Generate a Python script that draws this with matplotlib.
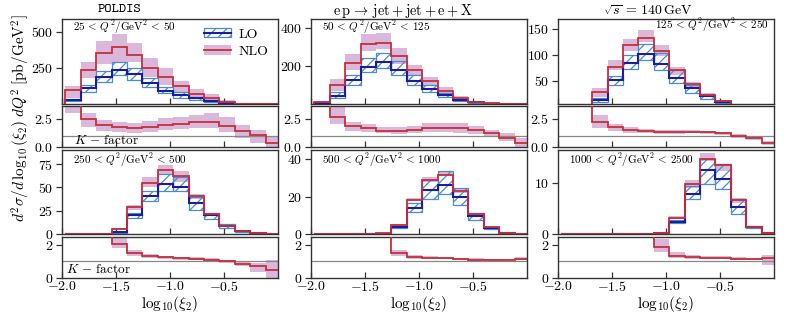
import numpy as np
import matplotlib
matplotlib.use("Agg")
import matplotlib.pyplot as plt
from matplotlib.patches import Patch
from matplotlib.lines import Line2D

plt.rcParams['font.family'] = 'serif'
plt.rcParams['font.serif'] = ['cmr10']
plt.rcParams['mathtext.fontset'] = 'cm'
plt.rcParams['axes.formatter.use_mathtext'] = True
plt.rcParams['axes.unicode_minus'] = True
plt.rcParams['hatch.linewidth'] = 0.9

# ---------------- data ----------------
bin_edges = [-1.970, -1.827, -1.684, -1.541, -1.399, -1.256, -1.113, -0.970,
             -0.827, -0.684, -0.541, -0.399, -0.256, -0.113, 0.030]

q2_labels = [r'$25\,<\,Q^2/\mathrm{GeV}^2\,<\,50$', r'$50\,<\,Q^2/\mathrm{GeV}^2\,<\,125$',
             r'$125\,<\,Q^2/\mathrm{GeV}^2\,<\,250$', r'$250\,<\,Q^2/\mathrm{GeV}^2\,<\,500$',
             r'$500\,<\,Q^2/\mathrm{GeV}^2\,<\,1000$', r'$1000\,<\,Q^2/\mathrm{GeV}^2\,<\,2500$']

# panel 1: 25 < Q2 < 50
nlo_1    = [95, 236, 356, 398, 340, 252, 190, 127, 69, 44, 16, 3, 1, 0.3]
nlo_lo_1 = [40, 183, 278, 294, 289, 190, 132, 85, 40, 21, 8, 1, 0.5, 0.1]
nlo_hi_1 = [125, 294, 437, 484, 421, 322, 248, 160, 104, 67, 30, 6, 2, 0.6]
lo_1     = [28, 109, 185, 236, 206, 148, 90, 62, 39, 23, 8, 2, 0.5, 0.1]
lo_lo_1  = [20, 86, 155, 201, 167, 120, 74, 44, 28, 16, 5, 1, 0.3, 0.05]
lo_hi_1  = [35, 132, 228, 289, 252, 178, 120, 81, 50, 30, 11, 3, 0.7, 0.15]
k_1      = [4.0, 2.43, 1.93, 1.73, 1.70, 1.79, 1.93, 2.02, 2.17, 2.22, 1.84, 1.43, 1.05, 0.32]
k_lo_1   = [2.95, 1.76, 1.40, 1.29, 1.26, 1.32, 1.49, 1.55, 1.64, 1.70, 1.32, 0.76, 0.32, 0.0]
k_hi_1   = [4.5, 2.95, 2.37, 2.22, 2.13, 2.31, 2.51, 2.60, 2.83, 2.95, 2.60, 1.93, 1.49, 0.90]

# panel 2: 50 < Q2 < 125
nlo_2    = [9, 102, 218, 320, 325, 254, 182, 120, 70, 34, 12, 3, 1, 0.3]
nlo_lo_2 = [5, 70, 182, 281, 290, 212, 155, 100, 55, 25, 8, 2, 0.5, 0.1]
nlo_hi_2 = [14, 134, 263, 373, 378, 298, 209, 145, 90, 45, 18, 5, 1.5, 0.5]
lo_2     = [3, 43, 125, 196, 223, 182, 123, 80, 48, 22, 8, 2, 0.5, 0.1]
lo_lo_2  = [2, 34, 102, 170, 191, 155, 102, 62, 36, 16, 5, 1, 0.3, 0.05]
lo_hi_2  = [4, 62, 155, 241, 271, 226, 155, 98, 60, 28, 11, 3, 0.7, 0.15]
k_2      = [6.0, 2.61, 1.84, 1.64, 1.43, 1.40, 1.49, 1.64, 1.67, 1.67, 1.49, 1.20, 0.82, 0.38]
k_lo_2   = [6.0, 2.02, 1.40, 1.29, 1.20, 1.14, 1.20, 1.29, 1.29, 1.26, 1.14, 0.90, 0.50, 0.0]
k_hi_2   = [6.0, 3.54, 2.22, 2.02, 1.78, 1.72, 1.84, 2.08, 2.08, 2.14, 1.84, 1.49, 1.20, 0.76]

# panel 3: 125 < Q2 < 250
nlo_3    = [0, 0, 28, 77, 118, 133, 107, 71, 43, 23, 10, 2, 0.5, 0.1]
nlo_lo_3 = [0, 0, 18, 71, 107, 125, 97, 61, 37, 18, 7, 1, 0.3, 0.05]
nlo_hi_3 = [0, 0, 35, 89, 130, 148, 118, 77, 48, 26, 13, 3, 0.7, 0.15]
lo_3     = [0, 0, 13, 52, 85, 101, 83, 55, 36, 20, 9, 2, 0.5, 0.1]
lo_lo_3  = [0, 0, 9, 42, 73, 90, 71, 45, 26, 15, 7, 1, 0.3, 0.05]
lo_hi_3  = [0, 0, 17, 59, 100, 120, 103, 71, 42, 23, 11, 3, 0.7, 0.15]
k_3      = [6.0, 6.0, 2.17, 1.73, 1.49, 1.40, 1.32, 1.32, 1.35, 1.29, 1.20, 0.96, 0.76, 0.38]
k_lo_3   = [6.0, 6.0, 1.64, 1.43, 1.26, 1.20, 1.18, 1.18, 1.20, 1.15, 1.06, 0.82, 0.60, 0.18]
k_hi_3   = [6.0, 6.0, 2.81, 2.02, 1.73, 1.61, 1.48, 1.48, 1.50, 1.44, 1.34, 1.10, 0.92, 0.55]

# panel 4: 250 < Q2 < 500
nlo_4    = [0, 0, 0.3, 5, 28.4, 54.6, 69, 61.7, 41, 21, 8.5, 3, 0.8, 0.2]
nlo_lo_4 = [0, 0, 0.2, 4, 26, 50, 64, 56, 37.5, 19, 7.5, 2.5, 0.6, 0.1]
nlo_hi_4 = [0, 0, 0.4, 6, 31, 61, 74, 67, 43, 23, 9.5, 3.5, 1.0, 0.3]
lo_4     = [0, 0, 0.1, 2, 20, 41, 53.5, 50.5, 33, 20, 9, 3, 0.8, 0.2]
lo_lo_4  = [0, 0, 0.05, 1.5, 17, 35, 46, 46, 26, 16, 6, 2.5, 0.6, 0.1]
lo_hi_4  = [0, 0, 0.15, 2.5, 23, 46, 64, 61, 40, 23, 11, 3.5, 1.0, 0.3]
k_4      = [6.0, 6.0, 6.0, 2.03, 1.48, 1.32, 1.24, 1.18, 1.14, 1.10, 1.00, 0.82, 0.68, 0.46]
k_lo_4   = [6.0, 6.0, 6.0, 1.78, 1.31, 1.22, 1.16, 1.10, 1.06, 1.02, 0.92, 0.72, 0.36, 0.0]
k_hi_4   = [6.0, 6.0, 6.0, 2.39, 1.68, 1.44, 1.34, 1.27, 1.23, 1.19, 1.10, 0.95, 0.87, 1.05]

# panel 5: 500 < Q2 < 1000
nlo_5    = [0, 0, 0, 0, 0.5, 4.8, 18.1, 29.1, 31.8, 22.9, 10.5, 3.6, 0.3, 0.05]
nlo_lo_5 = [0, 0, 0, 0, 0.4, 4.4, 17.5, 28, 31, 22, 10, 3.3, 0.25, 0.03]
nlo_hi_5 = [0, 0, 0, 0, 0.6, 5.3, 19.3, 30.6, 33, 24, 11.2, 4.0, 0.4, 0.07]
lo_5     = [0, 0, 0, 0, 0.1, 3.7, 14, 23.4, 26.5, 19.7, 9.6, 3.3, 0.3, 0.05]
lo_lo_5  = [0, 0, 0, 0, 0.08, 3.0, 11.7, 18.8, 21.6, 15.8, 7.5, 2.8, 0.2, 0.03]
lo_hi_5  = [0, 0, 0, 0, 0.12, 4.5, 16.6, 29, 33.6, 24.7, 11.4, 3.8, 0.4, 0.07]
k_5      = [6.0, 6.0, 6.0, 6.0, 6.0, 1.48, 1.27, 1.22, 1.18, 1.14, 1.10, 1.06, 1.08, 1.16]
k_lo_5   = [6.0, 6.0, 6.0, 6.0, 6.0, 1.30, 1.16, 1.14, 1.11, 1.08, 1.04, 1.00, 1.01, 1.08]
k_hi_5   = [6.0, 6.0, 6.0, 6.0, 6.0, 1.66, 1.38, 1.30, 1.26, 1.21, 1.17, 1.12, 1.15, 1.24]

# panel 6: 1000 < Q2 < 2500
nlo_6    = [0, 0, 0, 0, 0, 0.05, 0.2, 3.2, 9.8, 14.8, 13.5, 6.6, 1.4, 0.1]
nlo_lo_6 = [0, 0, 0, 0, 0, 0.03, 0.15, 2.9, 9.1, 14.4, 12.3, 6.0, 1.2, 0.05]
nlo_hi_6 = [0, 0, 0, 0, 0, 0.07, 0.25, 3.6, 10.6, 15.9, 13.8, 7.0, 1.6, 0.15]
lo_6     = [0, 0, 0, 0, 0, 0.02, 0.1, 2.4, 7.8, 12.6, 10.8, 5.3, 1.3, 0.1]
lo_lo_6  = [0, 0, 0, 0, 0, 0.01, 0.08, 2.2, 6.9, 9.8, 8.8, 3.9, 1.1, 0.05]
lo_hi_6  = [0, 0, 0, 0, 0, 0.03, 0.12, 2.8, 9.4, 14.8, 13.7, 6.8, 1.5, 0.15]
k_6      = [6.0, 6.0, 6.0, 6.0, 6.0, 6.0, 1.84, 1.32, 1.26, 1.22, 1.20, 1.16, 1.14, 1.20]
k_lo_6   = [6.0, 6.0, 6.0, 6.0, 6.0, 6.0, 1.58, 1.18, 1.16, 1.14, 1.12, 1.09, 1.07, 0.75]
k_hi_6   = [6.0, 6.0, 6.0, 6.0, 6.0, 6.0, 2.33, 1.58, 1.38, 1.31, 1.29, 1.24, 1.22, 1.35]

panels = [
    (nlo_1, nlo_lo_1, nlo_hi_1, lo_1, lo_lo_1, lo_hi_1, k_1, k_lo_1, k_hi_1),
    (nlo_2, nlo_lo_2, nlo_hi_2, lo_2, lo_lo_2, lo_hi_2, k_2, k_lo_2, k_hi_2),
    (nlo_3, nlo_lo_3, nlo_hi_3, lo_3, lo_lo_3, lo_hi_3, k_3, k_lo_3, k_hi_3),
    (nlo_4, nlo_lo_4, nlo_hi_4, lo_4, lo_lo_4, lo_hi_4, k_4, k_lo_4, k_hi_4),
    (nlo_5, nlo_lo_5, nlo_hi_5, lo_5, lo_lo_5, lo_hi_5, k_5, k_lo_5, k_hi_5),
    (nlo_6, nlo_lo_6, nlo_hi_6, lo_6, lo_lo_6, lo_hi_6, k_6, k_lo_6, k_hi_6),
]

main_ylims = [(0, 590), (0, 450), (5, 169), (0, 90), (0, 45), (0, 16.5)]
main_yticks = [[250, 500], [200, 400], [50, 100, 150], [0, 25, 50, 75], [0, 20, 40], [0, 10]]
ratio_ylims = [(0, 3.6), (0, 2.5)]
ratio_yticks = [[0, 2.5], [0, 2]]
x_ticks = [-2.0, -1.5, -1.0, -0.5]

# ---------------- style ----------------
C_NLO = '#c4303b'
C_NLO_BAND = 'purple'
C_LO = '#1c1c9e'
C_LO_BAND = '#4a8cd0'
SPINE = '#333333'

W, H = 789, 316
fig = plt.figure(figsize=(W / 100, H / 100), dpi=100)

col_left = [62, 311, 558]
col_w = 215.8
rows_px = [((19, 104), (106, 147)), ((150, 234), (236.5, 277.7))]

edges = np.array(bin_edges)
centers = 0.5 * (edges[:-1] + edges[1:])
widths = np.diff(edges)


def fax(left, top, bottom):
    return fig.add_axes([left / W, 1 - bottom / H, col_w / W, (bottom - top) / H])


def style(ax):
    for s in ax.spines.values():
        s.set_color(SPINE)
        s.set_linewidth(1.0)
    ax.tick_params(axis='x', direction='in', length=4, width=0.9, color=SPINE, labelsize=10, pad=1.5)
    ax.tick_params(axis='y', direction='out', length=4, width=0.9, color=SPINE, labelsize=10, pad=2.5)
    ax.set_xlim(-2.0, 0.0)
    ax.set_xticks(x_ticks)


for i, data in enumerate(panels):
    nlo, nlo_lo, nlo_hi, lo, lo_lo, lo_hi, k, k_lo, k_hi = [np.array(d, float) for d in data]
    r, c = divmod(i, 3)
    (mt, mb), (rt, rb) = rows_px[r]
    ax = fax(col_left[c], mt, mb)
    axr = fax(col_left[c], rt, rb)
    style(ax)
    style(axr)

    # main panel
    ax.stairs(nlo_hi, edges, baseline=nlo_lo, fill=True, color=C_NLO_BAND, alpha=0.28, lw=0)
    m = lo_hi > lo_lo
    ax.bar(centers[m], (lo_hi - lo_lo)[m], bottom=lo_lo[m], width=widths[m],
           facecolor='none', edgecolor=C_LO_BAND, hatch='///', linewidth=0.9, zorder=2)
    ax.stairs(lo, edges, baseline=0, color=C_LO, lw=1.5, zorder=3)
    ax.stairs(nlo, edges, baseline=0, color=C_NLO, lw=1.3, zorder=4)
    ax.set_ylim(*main_ylims[i])
    ax.set_yticks(main_yticks[i])
    ax.tick_params(axis='x', labelbottom=False)
    if i == 2:
        ax.text(0.979, 0.925, q2_labels[i], transform=ax.transAxes, ha='right', va='center', fontsize=8)
    else:
        ax.text(0.05, 0.9 if r == 0 else 0.88, q2_labels[i], transform=ax.transAxes,
                ha='left', va='center', fontsize=8)

    # ratio panel
    axr.stairs(k_hi, edges, baseline=k_lo, fill=True, color=C_NLO_BAND, alpha=0.28, lw=0)
    axr.axhline(1.0, color='#888888', lw=0.9, zorder=1)
    axr.stairs(k, edges, baseline=None, color=C_NLO, lw=1.3, zorder=4)
    axr.set_ylim(*ratio_ylims[r])
    axr.set_yticks(ratio_yticks[r])
    if r == 0:
        axr.tick_params(axis='x', labelbottom=False)
    else:
        axr.set_xlabel(r'$\mathrm{log}_{10}(\xi_2)$', fontsize=11, labelpad=0)
    if c == 0:
        if r == 0:
            axr.text(0.056, 0.15, r'$K\,-\,\mathrm{factor}$', transform=axr.transAxes,
                     ha='left', va='center', fontsize=9.5)
        else:
            axr.text(0.02, 0.21, r'$K\,-\,\mathrm{factor}$', transform=axr.transAxes,
                     ha='left', va='center', fontsize=9.5)

    if i == 0:
        h_lo = (Patch(facecolor='none', edgecolor=C_LO_BAND, hatch='///', linewidth=0.9),
                Line2D([], [], color=C_LO, lw=1.5))
        h_nlo = (Patch(facecolor=C_NLO_BAND, alpha=0.28, edgecolor='none'),
                 Line2D([], [], color=C_NLO, lw=1.3))
        ax.legend([h_lo, h_nlo], ['LO', 'NLO'], loc='upper right', frameon=False,
                  fontsize=10, handlelength=1.9, handleheight=0.65, handletextpad=0.6,
                  labelspacing=0.35, borderaxespad=0.25)

# titles
fig.text(119.5 / W, 1 - 10 / H, 'POLDIS', family='cmtt10', fontsize=10, ha='center', va='center')
fig.text(402.5 / W, 1 - 11 / H,
         r'$\mathrm{e\,p}\,\rightarrow\,\mathrm{jet} + \mathrm{jet} + \mathrm{e} + \mathrm{X}$',
         fontsize=10.3, ha='center', va='center')
fig.text(647.5 / W, 1 - 11 / H, r'$\sqrt{s}\,=\,140\,\mathrm{GeV}$', fontsize=10, ha='center', va='center')

# y label
fig.text(21 / W, 1 - 118 / H, r'$d^2\sigma/d\,\log_{10}(\xi_2)\;dQ^2\;[\mathrm{pb}/\mathrm{GeV}^2]$',
         rotation=90, fontsize=11, ha='center', va='center')

fig.savefig('out.png', dpi=100)
